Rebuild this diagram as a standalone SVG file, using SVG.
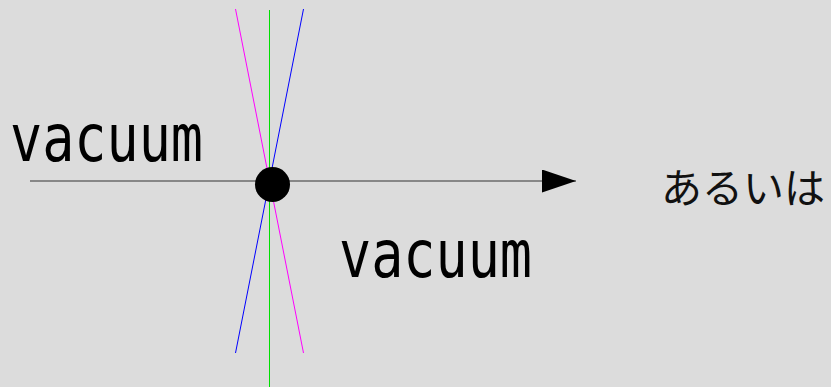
<svg xmlns="http://www.w3.org/2000/svg" width="831" height="387" viewBox="0 0 831 387">
  <style>
    .mono { font-family: "DejaVu Sans Mono", "Liberation Mono", monospace; font-size: 65px; fill: #000; }
    .jp { font-family: "Noto Sans CJK JP", "Noto Sans", sans-serif; font-size: 41px; fill: #111; }
  </style>
  <defs>
    <marker id="arrow" markerUnits="userSpaceOnUse" markerWidth="34" markerHeight="23" refX="34" refY="11.5" orient="auto">
      <path d="M0,0 L34,11.5 L0,23 Z" fill="#000"/>
    </marker>
  </defs>
  <rect x="0" y="0" width="831" height="387" fill="#dcdcdc"/>
  <g id="connectors">
    <line x1="269.5" y1="10" x2="269.5" y2="387" stroke="#00e000" stroke-width="1"/>
    <line x1="235.5" y1="9" x2="303.5" y2="353" stroke="#ff00ff" stroke-width="1"/>
    <line x1="303.5" y1="9" x2="235.5" y2="353" stroke="#0000ff" stroke-width="1"/>
    <line x1="30" y1="181" x2="576" y2="181" stroke="#333" stroke-width="1.2" marker-end="url(#arrow)"/>
  </g>
  <g id="point">
    <circle cx="272.5" cy="184.5" r="17.5" fill="#000"/>
  </g>
  <g id="label-vacuum-1">
    <text class="mono" x="10" y="160.5" textLength="193" lengthAdjust="spacingAndGlyphs">vacuum</text>
  </g>
  <g id="label-vacuum-2">
    <text class="mono" x="339" y="277" textLength="193" lengthAdjust="spacingAndGlyphs">vacuum</text>
  </g>
  <g id="label-aruiwa">
    <text class="jp" x="661" y="202.5">あるいは</text>
  </g>
</svg>
